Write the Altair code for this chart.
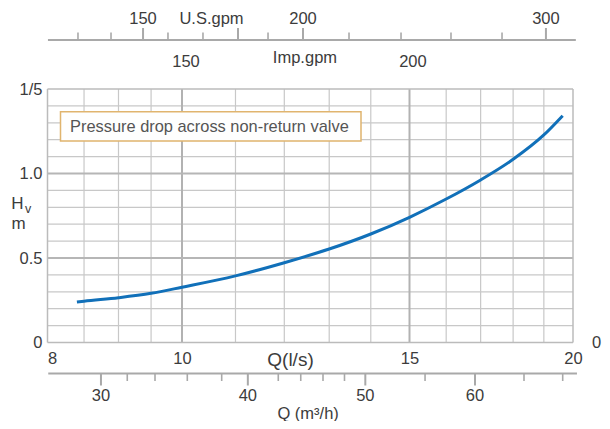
import altair as alt
import pandas as pd

FONT = "Liberation Sans"
TXT = "#3c3c3c"
FS = 16.5

# ---- main curve: pressure drop H_v (m) vs Q (l/s) ----
q_ls = [8.40, 8.5, 9, 9.5, 10, 11, 12, 13, 14, 15, 16, 17, 18, 19, 19.64]
h_m = [0.239, 0.244, 0.265, 0.291, 0.327, 0.394, 0.472, 0.553, 0.642, 0.741,
       0.849, 0.962, 1.084, 1.228, 1.342]

# ---- grid ----
x_grid_minor = [8.5, 9, 9.5, 11, 12, 13, 14, 16, 17, 18, 19]
x_grid_major = [10, 15]
x_frame = [8, 20]
y_grid_minor = [0.1, 0.2, 0.3, 0.4, 0.6, 0.7, 0.8, 0.9, 1.1, 1.2, 1.3, 1.4]
y_grid_major = [0.5, 1.0]
y_frame = [0, 1.5]

# ---- main axes ----
x_tick_values = [8, 10, 15, 20]
y_tick_values = [0, 0.5, 1.0, 1.5]

# ---- top secondary scale (positions expressed in l/s) ----
top_minor_q = [8.415, 8.889, 9.770, 10.381, 11.657, 13.467, 14.775, 16.136, 17.652]
top_major_q = [9.374, 11.05, 12.407, 19.07]
us_label_text = ["150", "200", "300"]
us_label_q = [9.374, 12.407, 19.07]
imp_label_text = ["150", "200"]
imp_label_q = [10.071, 15.09]
top_line_q = [8.006, 20.1]

# ---- bottom secondary scale m3/h (positions expressed in l/s) ----
m3h_major_q = [8.742, 11.245, 13.864, 16.833]
m3h_label_text = ["30", "40", "50", "60"]
m3h_minor_q = [9.132, 9.562, 10.095, 10.733, 11.872, 12.357, 12.857, 13.359,
               15.416, 18.348, 19.641]
bottom_line_q = [8.01, 20.14]

W, H = 525.5, 253.5
xs = alt.Scale(type="log", domain=[8, 10, 15, 20], range=[0, 134.5, 362, 525.5], nice=False)
ys = alt.Scale(domain=[0, 1.5], nice=False, zero=False)

X_AXIS = alt.Axis(
    values=x_tick_values, format="d", ticks=False, tickSize=0, domain=False, grid=False,
    labelFontSize=FS, labelFont=FONT, labelColor=TXT, labelPadding=16, labelBaseline="middle",
    labelAlign={"condition": {"test": "datum.value == 8", "value": "left"}, "value": "center"},
    labelOverlap=False, labelFlush=False,
    title="Q(l/s)", titleX=242.5, titleY=17, titleBaseline="middle", titleAlign="center",
    titleFontSize=19, titleFontWeight="normal", titleFont=FONT, titleColor=TXT)
Y_AXIS = alt.Axis(
    values=y_tick_values, ticks=False, tickSize=0, domain=False, grid=False,
    labelExpr="datum.value == 1.5 ? '1/5' : datum.value == 0 ? '0' : format(datum.value, '.1f')",
    labelFontSize=FS, labelFont=FONT, labelColor=TXT, labelPadding=5.5, labelOverlap=False,
    title=None)


def xenc(field="q"):
    return alt.X(f"{field}:Q", scale=xs, axis=X_AXIS)


def yenc(field="h"):
    return alt.Y(f"{field}:Q", scale=ys, axis=Y_AXIS)


def vrules(vals, color, width):
    return alt.Chart(pd.DataFrame({"q": vals})).mark_rule(color=color, strokeWidth=width).encode(x=xenc())


def hrules(vals, color, width):
    return alt.Chart(pd.DataFrame({"h": vals})).mark_rule(color=color, strokeWidth=width).encode(y=yenc())


grid = [
    vrules(x_grid_minor, "#c8c8c8", 1.2),
    hrules(y_grid_minor, "#c8c8c8", 1.2),
    vrules(x_grid_major, "#b2b2b2", 2),
    hrules(y_grid_major, "#b6b6b6", 2),
    vrules(x_frame, "#bbbbbb", 1.5),
    hrules(y_frame, "#bbbbbb", 1.5),
]

curve = alt.Chart(pd.DataFrame({"q": q_ls, "h": h_m})).mark_line(
    color="#1170b9", strokeWidth=3, interpolate="monotone"
).encode(x=xenc(), y=yenc())

# legend-like annotation box
box = alt.Chart(pd.DataFrame({"t": ["Pressure drop across non-return valve"]}))
box_rect = box.mark_rect(fill="#fefefe", stroke="#e0b46e", strokeWidth=1.5).encode(
    x=alt.value(13), x2=alt.value(313.5), y=alt.value(22.7), y2=alt.value(52))
box_text = box.mark_text(align="left", baseline="middle", font=FONT, fontSize=16.4, color="#555555").encode(
    x=alt.value(22.5), y=alt.value(37.7), text="t:N")

# y title H_v / m and stray right "0"
ytitle = alt.Chart(pd.DataFrame({"t": ["H", "v", "m", "0"],
                                 "px": [-30, -19.5, -29, 549],
                                 "py": [115, 119.5, 135, 254],
                                 "fs": [17, 12.5, 17, FS]}))
ylab = ytitle.mark_text(align="center", baseline="middle", font=FONT, color=TXT).encode(
    x=alt.X("px:Q", scale=None, axis=None), y=alt.Y("py:Q", scale=None, axis=None), text="t:N",
    size=alt.Size("fs:Q", scale=None, legend=None))

# ---- top secondary axes ----
TOP_Y = -49
GRAY = "#a9a9a9"
top_line = alt.Chart(pd.DataFrame({"q": [top_line_q[0]], "b": [top_line_q[1]]})).mark_rule(
    color=GRAY, strokeWidth=2).encode(x=xenc(), x2="b:Q", y=alt.value(TOP_Y))
top_minor = alt.Chart(pd.DataFrame({"q": top_minor_q})).mark_rule(color=GRAY, strokeWidth=1.6).encode(
    x=xenc(), y=alt.value(TOP_Y), y2=alt.value(TOP_Y - 7.5))
top_major = alt.Chart(pd.DataFrame({"q": top_major_q})).mark_rule(color=GRAY, strokeWidth=2).encode(
    x=xenc(), y=alt.value(TOP_Y), y2=alt.value(TOP_Y - 12))
us_text = alt.Chart(pd.DataFrame({"q": us_label_q + [10.54], "t": us_label_text + ["U.S.gpm"]})).mark_text(
    font=FONT, fontSize=FS, color=TXT, baseline="middle").encode(x=xenc(), y=alt.value(-70), text="t:N")
imp_text = alt.Chart(pd.DataFrame({"q": imp_label_q, "t": imp_label_text})).mark_text(
    font=FONT, fontSize=FS, color=TXT, baseline="middle").encode(x=xenc(), y=alt.value(-27.3), text="t:N")
imp_unit = alt.Chart(pd.DataFrame({"q": [12.45], "t": ["Imp.gpm"]})).mark_text(
    font=FONT, fontSize=FS, color=TXT, baseline="middle").encode(x=xenc(), y=alt.value(-30.7), text="t:N")

# ---- bottom secondary axis m3/h ----
BOT_Y = 284.5
bot_line = alt.Chart(pd.DataFrame({"q": [bottom_line_q[0]], "b": [bottom_line_q[1]]})).mark_rule(
    color=GRAY, strokeWidth=2).encode(x=xenc(), x2="b:Q", y=alt.value(BOT_Y))
bot_minor = alt.Chart(pd.DataFrame({"q": m3h_minor_q})).mark_rule(color=GRAY, strokeWidth=1.6).encode(
    x=xenc(), y=alt.value(BOT_Y), y2=alt.value(BOT_Y + 7.5))
bot_major = alt.Chart(pd.DataFrame({"q": m3h_major_q})).mark_rule(color=GRAY, strokeWidth=2).encode(
    x=xenc(), y=alt.value(BOT_Y), y2=alt.value(BOT_Y + 12))
bot_text = alt.Chart(pd.DataFrame({"q": m3h_major_q, "t": m3h_label_text})).mark_text(
    font=FONT, fontSize=FS, color=TXT, baseline="middle").encode(x=xenc(), y=alt.value(306.7), text="t:N")
bot_unit = alt.Chart(pd.DataFrame({"q": [12.52], "t": ["Q (m³/h)"]})).mark_text(
    font=FONT, fontSize=FS, color=TXT, baseline="middle").encode(x=xenc(), y=alt.value(324.5), text="t:N")

chart = alt.layer(
    *grid, curve, box_rect, box_text, ylab,
    top_line, top_minor, top_major, us_text, imp_text, imp_unit,
    bot_line, bot_minor, bot_major, bot_text, bot_unit,
).properties(
    width=W, height=H,
    padding={"left": 39.5, "top": 81, "right": 29, "bottom": 78.5},
    autosize=alt.AutoSizeParams(type="none"),
    background="white",
).configure_view(stroke=None)

chart.save("out.html", embed_options={"renderer": "svg", "actions": False})
